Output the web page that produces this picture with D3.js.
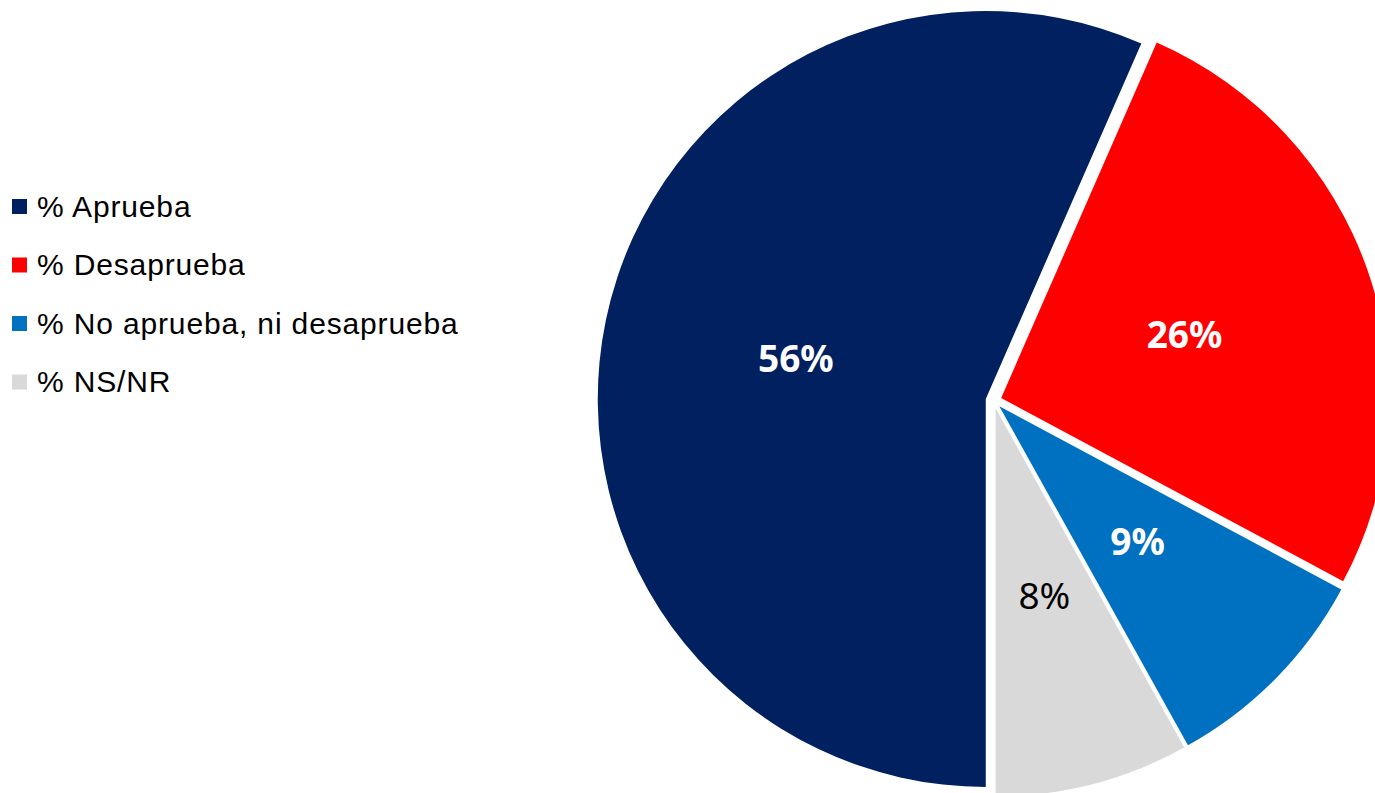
<!DOCTYPE html>
<html>
<head>
<meta charset="utf-8">
<script src="https://cdn.jsdelivr.net/npm/d3@7"></script>
<style>
  html, body { margin: 0; padding: 0; background: #fff; overflow: hidden; }
  svg { display: block; }
</style>
</head>
<body>
<svg id="chart" width="1375" height="793"></svg>
<script>
// ---- data ----
const categories = ["% Aprueba", "% Desaprueba", "% No aprueba, ni desaprueba", "% NS/NR"];
const values = [56, 26, 9, 8];
const labels = ["56%", "26%", "9%", "8%"];

// ---- styles ----
const colors = ["#002060", "#FF0000", "#0070C0", "#D9D9D9"];
const labelColors = ["#FFFFFF", "#FFFFFF", "#FFFFFF", "#000000"];
const labelWeights = ["bold", "bold", "bold", "normal"];

const W = 1375, H = 793;
const cx = 993.6, cy = 400.6, R = 388, explode = 8;

const svg = d3.select("#chart");

const pie = d3.pie().sort(null).value(d => d).startAngle(Math.PI).endAngle(3 * Math.PI);
const arcs = pie(values);
const arc = d3.arc().innerRadius(0).outerRadius(R);

const g = svg.append("g").attr("transform", `translate(${cx},${cy})`);

const slice = g.selectAll("g.slice").data(arcs).enter().append("g")
  .attr("class", "slice")
  .attr("transform", d => {
    const mid = (d.startAngle + d.endAngle) / 2;
    return `translate(${explode * Math.sin(mid)},${-explode * Math.cos(mid)})`;
  });

slice.append("path")
  .attr("d", arc)
  .attr("fill", (d, i) => colors[i]);

slice.append("text")
  .attr("transform", d => `translate(${arc.centroid(d)})`)
  .attr("text-anchor", "middle")
  .attr("dy", 13)
  .attr("font-family", "'Noto Sans', 'Open Sans', sans-serif")
  .attr("font-size", 37)
  .attr("font-weight", (d, i) => labelWeights[i])
  .attr("fill", (d, i) => labelColors[i])
  .text((d, i) => labels[i]);

// ---- legend ----
const legend = svg.append("g").attr("transform", "translate(12,199)");
const item = legend.selectAll("g").data(categories).enter().append("g")
  .attr("transform", (d, i) => `translate(0,${i * 58.5})`);
item.append("rect").attr("x", 0).attr("y", 0).attr("width", 15).attr("height", 15)
  .attr("fill", (d, i) => colors[i]);
item.append("text")
  .attr("x", 25).attr("y", 17.5)
  .attr("font-family", "'Liberation Sans', Arial, sans-serif")
  .attr("font-size", 30)
  .attr("letter-spacing", 0.85)
  .attr("fill", "#000")
  .text(d => d);
</script>
</body>
</html>
